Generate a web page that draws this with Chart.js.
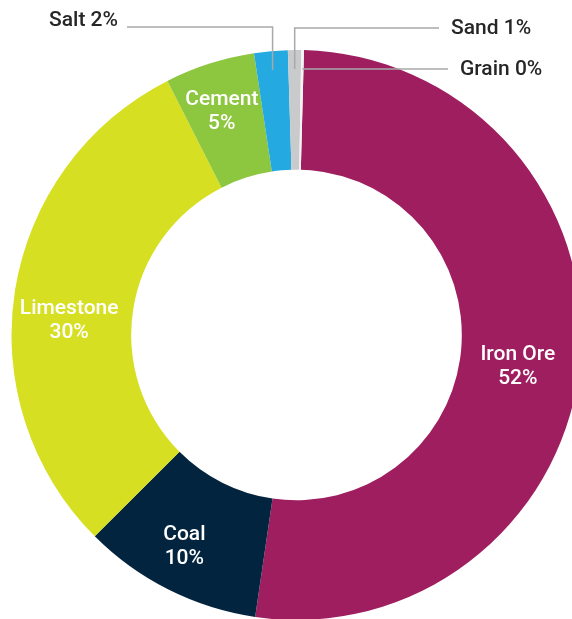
<!DOCTYPE html>
<html>
<head>
<meta charset="utf-8">
<script src="https://cdn.jsdelivr.net/npm/chart.js@4/dist/chart.umd.min.js"></script>
<style>
  html, body { margin: 0; padding: 0; background: #fff; overflow: hidden; }
  #wrap { position: relative; width: 572px; height: 619px; overflow: hidden; }
  canvas { position: absolute; left: 0; top: 0; }
</style>
</head>
<body>
<div id="wrap"><canvas id="cargoChart" width="600" height="624"></canvas></div>
<script>
// cargo share by commodity (percent of tonnage)
const commodities = ['Iron Ore', 'Coal', 'Limestone', 'Cement', 'Salt', 'Sand', 'Grain'];
const shares = [51.9, 10.2, 30.0, 5.1, 1.9, 0.75, 0.15];
const sliceColors = ['#9f1e5f', '#03243f', '#d6df22', '#8dc63f', '#24a9e1', '#c9cacc', '#f3f3f3'];

// labels written inside the ring, and small nudges off the arc centre
const insideLabels = ['Iron Ore', 'Coal', 'Limestone', 'Cement'];
const insideNudge = [[-3, 12], [-11, 11], [-5, 21], [-6, -9]];

// tiny slices get a label outside with a leader line
// elbowY: height of the horizontal run (null = straight out), endX: where the line stops
const outsideLabels = [
    { name: 'Salt', elbowY: 27, endX: 127, side: 'left' },
    { name: 'Sand', elbowY: 28, endX: 439, side: 'right' },
    { name: 'Grain', elbowY: null, endX: 448, side: 'right' }
];

function pctText(i) {
    return Math.round(shares[i]) + '%';
}

const labelPlugin = {
    id: 'sliceLabels',
    afterDatasetsDraw(chart) {
        const ctx = chart.ctx;
        const arcs = chart.getDatasetMeta(0).data;
        ctx.save();

        // inside labels
        ctx.fillStyle = '#ffffff';
        ctx.font = '500 21px Roboto';
        ctx.textAlign = 'center';
        ctx.textBaseline = 'middle';
        insideLabels.forEach((name, k) => {
            const i = commodities.indexOf(name);
            const pos = arcs[i].tooltipPosition();
            const x = pos.x + insideNudge[k][0];
            const y = pos.y + insideNudge[k][1];
            ctx.fillText(name, x, y - 12);
            ctx.fillText(pctText(i), x, y + 12);
        });

        // outside labels with leader lines
        ctx.strokeStyle = '#a9a9a9';
        ctx.lineWidth = 1.5;
        ctx.fillStyle = '#262626';
        ctx.font = '500 21px Roboto';
        outsideLabels.forEach(o => {
            const i = commodities.indexOf(o.name);
            const arc = arcs[i];
            const mid = (arc.startAngle + arc.endAngle) / 2;
            const r = arc.outerRadius - 19;
            const ax = arc.x + Math.cos(mid) * r;
            const ay = arc.y + Math.sin(mid) * r;
            const ty = o.elbowY === null ? ay : o.elbowY;
            ctx.beginPath();
            ctx.moveTo(ax, ay);
            ctx.lineTo(ax, ty);
            ctx.lineTo(o.endX, ty);
            ctx.stroke();
            const txt = o.name + ' ' + pctText(i);
            if (o.side === 'left') {
                ctx.textAlign = 'right';
                ctx.fillText(txt, o.endX - 9, ty - 6);
            } else {
                ctx.textAlign = 'left';
                ctx.fillText(txt, o.endX + 12, ty + 1);
            }
        });
        ctx.restore();
    }
};

new Chart(document.getElementById('cargoChart'), {
    type: 'doughnut',
    data: {
        labels: commodities,
        datasets: [{
            data: shares,
            backgroundColor: sliceColors,
            borderWidth: 0,
            hoverBorderWidth: 0,
            hoverOffset: 0
        }]
    },
    options: {
        responsive: false,
        animation: false,
        rotation: 1.5,
        cutout: '58%',
        layout: { padding: { left: 11.5, right: 18.5, top: 50, bottom: 4 } },
        plugins: {
            legend: { display: false },
            tooltip: { enabled: false }
        }
    },
    plugins: [labelPlugin]
});
</script>
</body>
</html>
